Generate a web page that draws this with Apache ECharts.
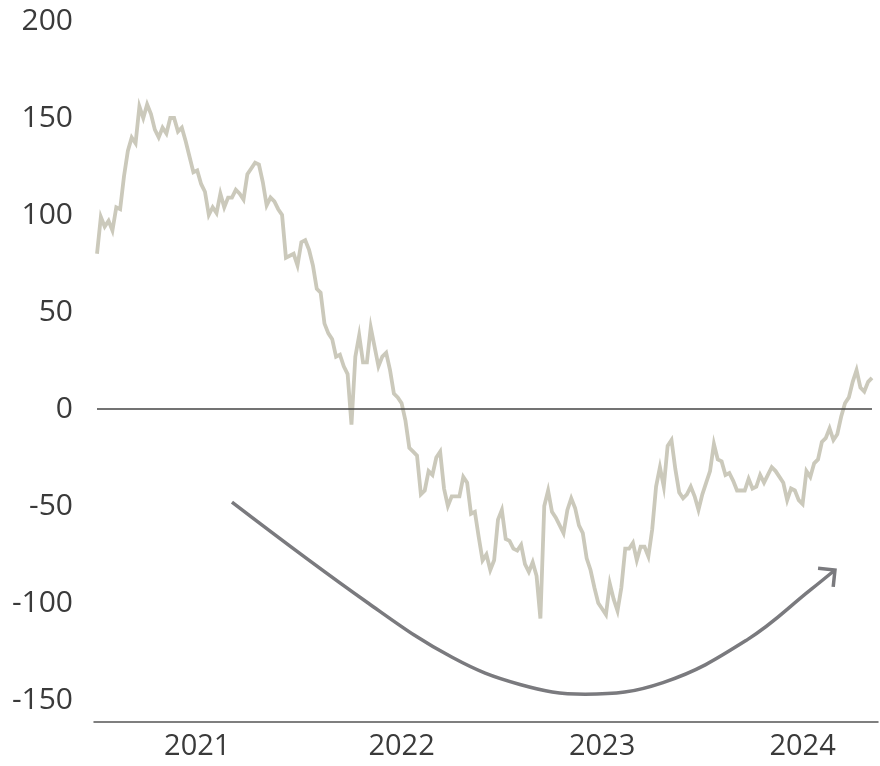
<!DOCTYPE html>
<html>
<head>
<meta charset="utf-8">
<script src="https://cdn.jsdelivr.net/npm/echarts@6/dist/echarts.min.js"></script>
<style>
html,body{margin:0;padding:0;background:#fff;}
#chart{width:880px;height:766px;}
</style>
</head>
<body>
<div id="chart"></div>
<script>
// Weekly series, first week ending 2020-07-03
const startDate = '2020-07-03';
const seriesValues = [
  80, 99, 94, 97, 92, 104, 103, 120, 133, 140,
  137, 156, 150, 157, 152, 144, 140, 145, 142, 150,
  150, 143, 145, 138, 130, 122, 123, 116, 112, 100,
  104, 101, 111, 104, 109, 109, 113, 111, 108, 121,
  124, 127, 126, 117, 105, 109, 107, 103, 100, 78,
  79, 80, 74, 86, 87, 82, 74, 62, 60, 44,
  39, 36, 27, 28, 22, 18, -8, 27, 38, 24,
  24, 42, 32, 22, 27, 29, 20, 8, 6, 3,
  -6, -20, -22, -24, -44, -42, -32, -34, -25, -22,
  -41, -50, -45, -45, -45, -35, -38, -54, -53, -66,
  -78, -75, -83, -78, -57, -52, -67, -68, -72, -73,
  -70, -80, -84, -79, -86, -108, -50, -42, -53, -56,
  -60, -64, -52, -46, -51, -60, -64, -77, -83, -92,
  -100, -103, -106, -90, -98, -104, -92, -72, -72, -69,
  -78, -71, -71, -76, -62, -40, -30, -40, -19, -16,
  -31, -43, -46, -44, -40, -45, -52, -44, -38, -32,
  -18, -26, -27, -34, -33, -37, -42, -42, -42, -36,
  -41, -40, -34, -38, -34, -30, -32, -35, -38, -47,
  -41, -42, -47, -49, -32, -35, -28, -26, -17, -15,
  -10, -16, -13, -4, 3, 6, 14, 20, 11, 9,
  14, 16
];
const yTickLabels = [-150, -100, -50, 0, 50, 100, 150, 200];
// Trend arrow path in data coordinates [week index, value]
const arrowPath = [[35, -48], [70.3, -100], [92.1, -128], [109.7, -142], [126.6, -147],
                   [146.8, -141], [168.6, -119], [185.2, -93], [191.4, -83]];
const zeroLine = [[0, 0], [seriesValues.length - 1, 0]];

// week categories
const weekDates = seriesValues.map((_, i) => {
  const d = new Date(startDate + 'T00:00:00Z');
  d.setUTCDate(d.getUTCDate() + 7 * i);
  return d;
});
const yearStartIdx = [];
for (let i = 1; i < weekDates.length; i++) {
  if (weekDates[i].getUTCFullYear() !== weekDates[i - 1].getUTCFullYear()) yearStartIdx.push(i);
}
const lineData = seriesValues.map((v, i) => [i, v]);

const FONT = '"Open Sans", "Noto Sans", sans-serif';
const chart = echarts.init(document.getElementById('chart'), null, {renderer: 'canvas'});
chart.setOption({
  animation: false,
  backgroundColor: '#ffffff',
  grid: {left: 94, right: 2, top: 21, bottom: 66, containLabel: false},
  xAxis: {
    type: 'value',
    min: -0.78,
    max: 202.56,
    offset: 22,
    splitLine: {show: false},
    axisTick: {show: false},
    axisLine: {show: true, onZero: false, lineStyle: {color: '#555555', width: 1.5}},
    axisLabel: {
      customValues: yearStartIdx,
      formatter: v => String(weekDates[Math.round(v)].getUTCFullYear()),
      color: '#3a3a3a', fontFamily: FONT, fontSize: 29, margin: 10
    }
  },
  yAxis: {
    type: 'value',
    min: -150, max: 200, interval: 50,
    splitLine: {show: false},
    axisLine: {show: false},
    axisTick: {show: false},
    axisLabel: {
      customValues: yTickLabels,
      color: '#3a3a3a', fontFamily: FONT, fontSize: 30, margin: 21
    }
  },
  series: [
    {
      type: 'line', data: lineData, showSymbol: false, symbol: 'none',
      lineStyle: {color: '#cbc9bb', width: 3.8, join: 'miter'}, z: 2
    },
    {
      type: 'line', data: zeroLine, showSymbol: false, symbol: 'none',
      lineStyle: {color: '#444444', width: 1.3}, z: 3
    },
    {
      type: 'line', data: arrowPath, showSymbol: false, symbol: 'none', smooth: 0.4,
      lineStyle: {color: '#7a7a7e', width: 3.5}, z: 4
    }
  ]
});

// arrowhead at the end of the trend arrow
const n = arrowPath.length;
const p1 = chart.convertToPixel({gridIndex: 0}, arrowPath[n - 2]);
const p2 = chart.convertToPixel({gridIndex: 0}, arrowPath[n - 1]);
const ang = Math.atan2(p2[1] - p1[1], p2[0] - p1[0]) + Math.PI;
const L = 17;
const b1 = [p2[0] + L * Math.cos(ang + Math.PI / 4), p2[1] + L * Math.sin(ang + Math.PI / 4)];
const b2 = [p2[0] + L * Math.cos(ang - Math.PI / 4), p2[1] + L * Math.sin(ang - Math.PI / 4)];
chart.setOption({
  graphic: [{
    type: 'polyline', z: 10,
    shape: {points: [b1, p2, b2]},
    style: {stroke: '#7a7a7e', lineWidth: 3.5, fill: null}
  }]
});
</script>
</body>
</html>
